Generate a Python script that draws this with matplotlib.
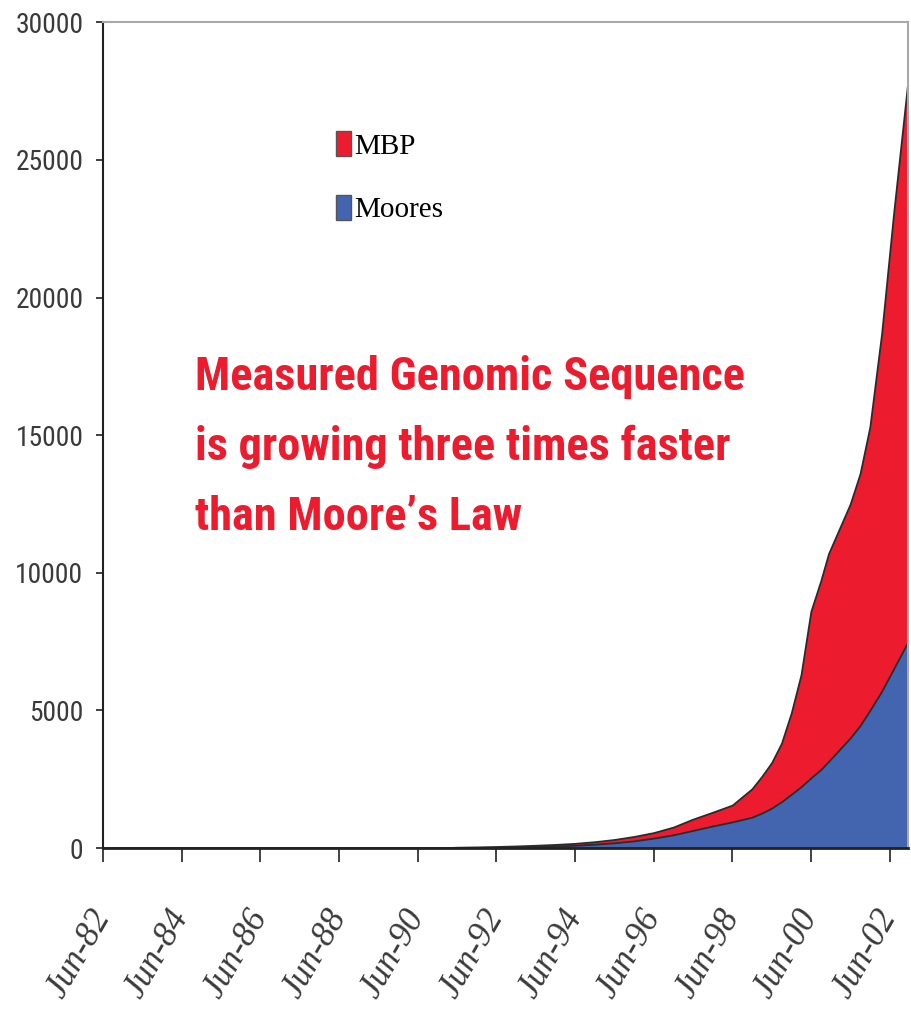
import os
import matplotlib
matplotlib.use("Agg")
import matplotlib.pyplot as plt
from matplotlib import font_manager
from matplotlib.font_manager import FontProperties

# Genomic sequence (MBP) vs Moore's law growth
years = [1982.5, 1991.0, 1991.5, 1992.0, 1992.5, 1993.0, 1993.5, 1994.0, 1994.5,
         1995.0, 1995.5, 1996.0, 1996.5, 1997.0, 1997.5, 1998.0, 1998.5, 1999.0,
         1999.25, 1999.5, 1999.75, 2000.0, 2000.25, 2000.5, 2000.75, 2000.95,
         2001.5, 2001.75, 2002.0, 2002.3, 2002.6, 2002.97]
mbp = [0, 0, 30, 40, 55, 75, 100, 130, 170, 230, 310, 420, 560, 760, 1050, 1300,
       1560, 2150, 2600, 3100, 3800, 4900, 6300, 8600, 9700, 10700, 12500, 13600,
       15300, 18700, 23000, 27900]
moores = [0, 0, 15, 20, 30, 40, 55, 75, 100, 140, 190, 260, 360, 480, 640, 800,
          950, 1120, 1270, 1450, 1680, 1950, 2230, 2550, 2850, 3150, 4000, 4450,
          5000, 5700, 6500, 7500]

tick_years = [1982.5 + 2 * i for i in range(11)]
tick_labels = ['Jun-82', 'Jun-84', 'Jun-86', 'Jun-88', 'Jun-90', 'Jun-92',
               'Jun-94', 'Jun-96', 'Jun-98', 'Jun-00', 'Jun-02']
y_ticks = [0, 5000, 10000, 15000, 20000, 25000, 30000]
note_lines = ['Measured Genomic Sequence', 'is growing three times faster',
              'than Moore\u2019s Law']


def pick_font(prefixes, fallback):
    files = font_manager.findSystemFonts()
    for p in prefixes:
        for f in files:
            if os.path.basename(f).lower().startswith(p.lower()):
                return FontProperties(fname=f)
    return FontProperties(**fallback)


bold_narrow = pick_font(['LiberationSansNarrow-Bold.', 'RobotoCondensed-Bold.',
                         'DejaVuSansCondensed-Bold.', 'NotoSans-CondensedBold.',
                         'OpenSans-CondensedBold.'],
                        {'family': 'Liberation Sans', 'weight': 'bold'})
narrow = pick_font(['LiberationSansNarrow-Regular.', 'RobotoCondensed-Regular.',
                    'DejaVuSansCondensed.', 'NotoSans-Condensed.',
                    'OpenSans-CondensedRegular.'],
                   {'family': 'Liberation Sans'})
serif = 'Liberation Serif'

red = '#ec1c2e'
blue = '#4364ae'
grey_text = '#3a3a3a'

fig = plt.figure(figsize=(9.11, 10.11), dpi=100)
ax = fig.add_axes([0.113, 0.1612, 0.8837, 0.8168])
renderer = fig.canvas.get_renderer()


def fit_size(text, fp, target_px, start=30):
    t = fig.text(0, 0, text, fontproperties=fp, fontsize=start)
    w = t.get_window_extent(renderer).width
    t.remove()
    return start * target_px / w


ax.fill_between(years, mbp, color=red, edgecolor='#2b2b2b', linewidth=1.3, label='MBP')
ax.fill_between(years, moores, color=blue, edgecolor='#2b2b2b', linewidth=1.3, label='Moores')

ax.set_xlim(1982.5, 2002.97)
ax.set_ylim(0, 30000)
ax.set_xticks(tick_years)
ax.set_xticklabels(tick_labels, rotation=60, ha='right', va='center', rotation_mode='anchor',
                   family=serif, style='italic', fontsize=25, color=grey_text)
ax.set_yticks(y_ticks)
ysize = fit_size('30000', narrow, 68)
ax.set_yticklabels([str(v) for v in y_ticks], fontproperties=narrow, fontsize=ysize,
                   color=grey_text)
ax.tick_params(axis='y', direction='out', length=5, width=1.3, pad=9, color='#333333')
ax.tick_params(axis='x', direction='out', length=10, width=1.3, pad=36, color='#333333')

ax.spines['left'].set_color('#222222')
ax.spines['left'].set_linewidth(1.5)
ax.spines['bottom'].set_color('#222222')
ax.spines['bottom'].set_linewidth(2)
ax.spines['top'].set_color('#a8a8a8')
ax.spines['top'].set_linewidth(1.5)
ax.spines['right'].set_color('#a8a8a8')
ax.spines['right'].set_linewidth(1.5)

leg = ax.legend(loc='upper left', bbox_to_anchor=(0.289, 0.868), frameon=False,
                prop={'family': serif, 'size': 21}, handlelength=0.52, handleheight=0.95,
                handletextpad=0.12, labelspacing=1.2, borderpad=0, borderaxespad=0)
for h in leg.legend_handles:
    h.set_edgecolor('#555555')
    h.set_linewidth(1.0)

note_size = fit_size(note_lines[0], bold_narrow, 550)
for line, ypos in zip(note_lines, [0.5545, 0.4697, 0.385]):
    ax.text(0.114, ypos, line, transform=ax.transAxes, ha='left', va='baseline',
            color=red, fontproperties=bold_narrow, fontsize=note_size)

fig.savefig('out.png', dpi=100)
